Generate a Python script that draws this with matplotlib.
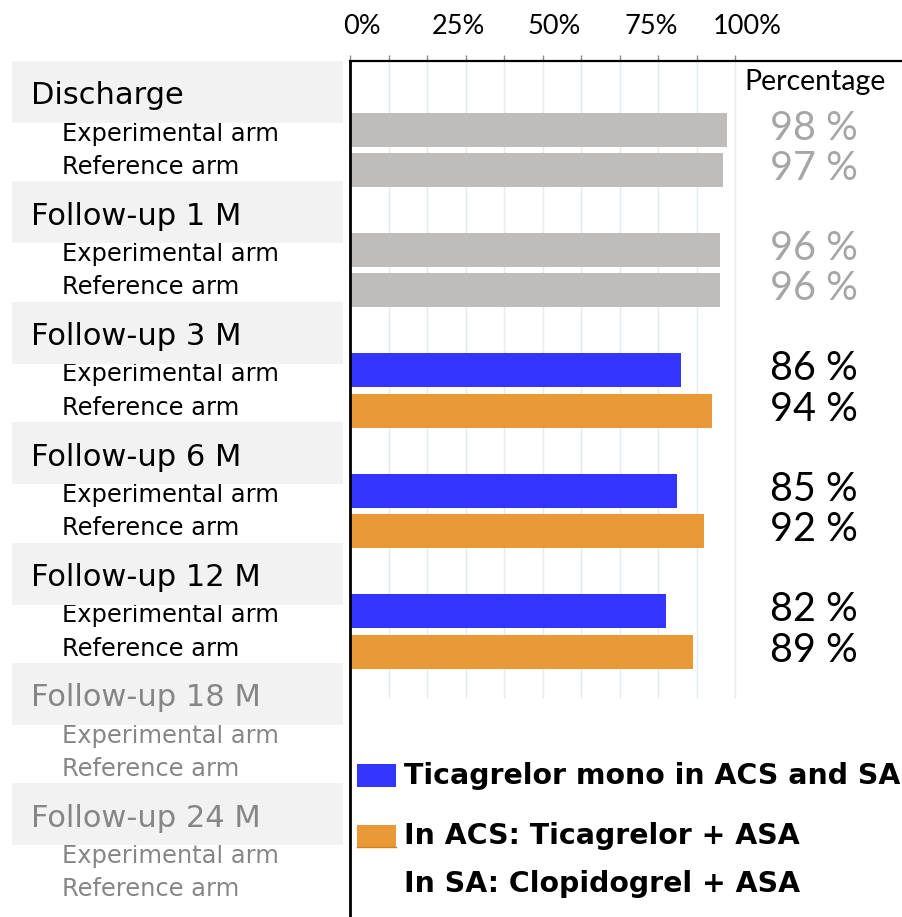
import matplotlib
matplotlib.use("Agg")
import matplotlib.pyplot as plt
import numpy as np
from matplotlib.patches import Rectangle
from matplotlib.transforms import offset_copy, blended_transform_factory

# ---- data -------------------------------------------------------------
groups = ["Discharge", "Follow-up 1 M", "Follow-up 3 M", "Follow-up 6 M",
          "Follow-up 12 M", "Follow-up 18 M", "Follow-up 24 M"]
arm_labels = ["Experimental arm", "Reference arm"]
experimental = [98, 96, 86, 85, 82, None, None]
reference = [97, 96, 94, 92, 89, None, None]
# visits whose rows are drawn in grey (pooled before randomised strategy)
grey_visits = [True, True, False, False, False, False, False]
# visits without data yet (greyed labels)
pending_visits = [False, False, False, False, False, True, True]
axis_ticks = [0, 25, 50, 75, 100]
legend_labels = ["Ticagrelor mono in ACS and SA",
                 "In ACS: Ticagrelor + ASA",
                 "In SA: Clopidogrel + ASA"]

# ---- styling ----------------------------------------------------------
BLUE = "#3434FF"
ORANGE = "#E99935"
GREY_BAR = "#BFBCBC"
GREY_VAL = "#A6A6A6"
GREY_TXT = "#868686"
BOX = "#F2F2F2"
GRID = "#E4EAED"
LABEL_FONT = "DejaVu Sans"
NUM_FONT = "Lato"

W, H = 902, 917
X0, X100 = 350, 735          # pixel positions of 0 % and 100 %
TOP = 61                     # top frame line
STEP = 120.4                 # vertical distance between visits
C0 = 92                      # centre of first header box
px_per_pct = (X100 - X0) / 100

fig = plt.figure(figsize=(W / 100, H / 100), dpi=100)
fig.patch.set_facecolor("white")

# background layer in pixel units for the label column and legend
bg = fig.add_axes([0, 0, 1, 1], zorder=0)
bg.set_xlim(0, W)
bg.set_ylim(H, 0)
bg.axis("off")

# bar panel: x in percent, y in pixel rows
ax = fig.add_axes([X0 / W, 0, (W - X0) / W, (H - TOP) / H], zorder=1)
ax.patch.set_visible(False)
ax.set_xlim(0, (W - X0) / px_per_pct)
ax.set_ylim(H, TOP)

for side in ("right", "bottom"):
    ax.spines[side].set_visible(False)
ax.spines["left"].set_linewidth(2.0)
ax.spines["top"].set_linewidth(1.6)
ax.spines["left"].set_color("black")
ax.spines["top"].set_color("black")

ax.xaxis.tick_top()
ax.set_xticks(np.arange(0, 101, 10))
ax.set_xticklabels([])
ax.tick_params(axis="x", direction="out", length=4, width=1,
               color="#8a8a8a", top=True, bottom=False)
ax.set_yticks([])

ax.vlines(np.arange(10, 101, 10), TOP, 698, color=GRID, lw=1, zorder=0)

lab_tr = offset_copy(blended_transform_factory(ax.transData, bg.transData),
                     fig=fig, x=12, y=0, units="dots")
for v in axis_ticks:
    ax.text(v, 26, f"{v}%", transform=lab_tr, ha="center", va="center",
            fontsize=19.5, family=NUM_FONT, color="black")

ax.text(((815 - X0) / px_per_pct), 82, "Percentage", ha="center", va="center",
        fontsize=20.5, family=NUM_FONT, color="black")

BAR_H = 34
for i, name in enumerate(groups):
    c = C0 + i * STEP
    # header box and labels
    bg.add_patch(Rectangle((12, c - 31), 331, 62, fc=BOX, ec="none", zorder=3))
    txt_col = GREY_TXT if pending_visits[i] else "black"
    bg.text(31, c + 12.5, name, ha="left", va="baseline", fontsize=22,
            family=LABEL_FONT, color=txt_col, zorder=4)
    bg.text(62, c + 48.5, arm_labels[0], ha="left", va="baseline",
            fontsize=17.4, family=LABEL_FONT, color=txt_col, zorder=2)
    bg.text(62, c + 82, arm_labels[1], ha="left", va="baseline",
            fontsize=17.4, family=LABEL_FONT, color=txt_col, zorder=2)

    vals = [experimental[i], reference[i]]
    if grey_visits[i]:
        cols = [GREY_BAR, GREY_BAR]
        vcol = GREY_VAL
    else:
        cols = [BLUE, ORANGE]
        vcol = "black"
    for k, (v, col) in enumerate(zip(vals, cols)):
        if v is None:
            continue
        y = c + 37.5 + k * 40.5
        ax.barh(y, v, height=BAR_H, left=0, color=col, edgecolor="none",
                zorder=2)
        ax.text((858 - X0) / px_per_pct, y - 1.5, f"{v} %", ha="right",
                va="center", fontsize=28.5, family=NUM_FONT, color=vcol)

# legend
bg.add_patch(Rectangle((357, 764), 39, 23, fc=BLUE, ec="none", zorder=3))
bg.add_patch(Rectangle((357, 825), 39, 22, fc=ORANGE, ec="none", zorder=3))
bg.plot([357, 396], [846.5, 846.5], color="#D27F1C", lw=1, zorder=4)
for txt, yy in zip(legend_labels, [776, 836.5, 884]):
    bg.text(404, yy, txt, ha="left", va="center", fontsize=20.4,
            fontweight="bold", family=LABEL_FONT, color="black", zorder=4)

fig.savefig("out.png", dpi=100, facecolor="white")
